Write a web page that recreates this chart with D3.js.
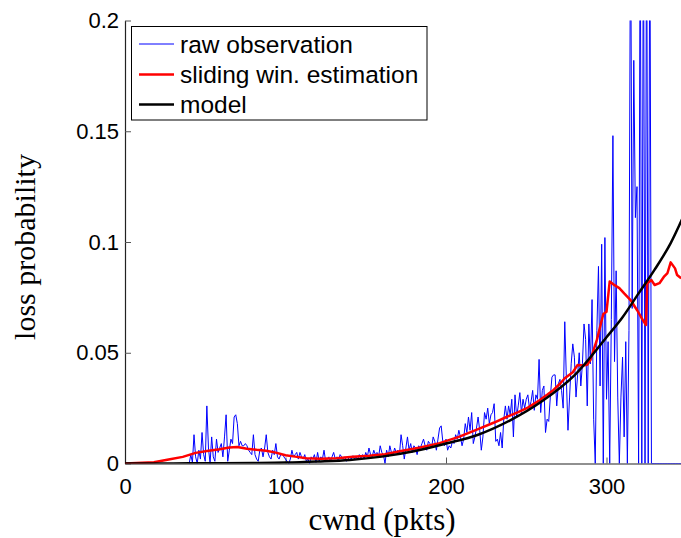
<!DOCTYPE html>
<html lang="en">
<head>
<meta charset="UTF-8">
<title>Loss probability vs cwnd</title>
<script src="https://d3js.org/d3.v7.min.js"></script>
<style>
  body { margin: 0; background: #fff; }
  svg { display: block; }
</style>
</head>
<body>
<div id="chart"></div>
<script>
  // Tick values and legend labels
  const xTicks = [0, 100, 200, 300];
  const yTicks = [0, 0.05, 0.1, 0.15, 0.2];
  const legendLabels = ["raw observation", "sliding win. estimation", "model"];

  // Raw observation: one value per cwnd, starting at cwnd = 40
  const rawStart = 40;
  const rawValues = [
    0, 0.004, 0.0005, 0.013, 0.003, 0, 0.006, 0.002, 0.014, 0.004,          // 40
    0.001, 0.026, 0.007, 0, 0.012, 0.003, 0.001, 0.011, 0.005, 0.007,       // 50
    0.009, 0.003, 0.012, 0.022, 0.001, 0.006, 0.011, 0.009, 0.021, 0.022,   // 60
    0.018, 0.008, 0.010, 0.008, 0.008, 0.009, 0.008, 0.006, 0.005, 0.004,   // 70
    0.013, 0.004, 0.002, 0.001, 0.006, 0.007, 0.003, 0.007, 0.013, 0.005,  // 80
    0.003, 0.002, 0.006, 0.004, 0.009, 0.003, 0.002, 0.004, 0.004, 0.003,  // 90
    0.002, 0.001, 0, 0.002, 0.006, 0.003, 0.004, 0.005, 0.002, 0.005,      // 100
    0.003, 0.002, 0.004, 0.001, 0.002, 0, 0.003, 0.002, 0.004, 0.0005,     // 110
    0.005, 0.001, 0.003, 0.002, 0.006, 0.001, 0.002, 0.003, 0.001, 0.003,  // 120
    0.005, 0.002, 0.003, 0.001, 0.004, 0.003, 0.002, 0.003, 0.001, 0.002,  // 130
    0.003, 0.002, 0.0035, 0.002, 0.003, 0.002, 0.004, 0.0025, 0.004, 0.002, // 140
    0.005, 0.003, 0.007, 0.004, 0.003, 0.006, 0.004, 0.005, 0.003, 0.008,  // 150
    0.005, 0.004, 0, 0.006, 0.003, 0.008, 0.005, 0.004, 0.007, 0.005,      // 160
    0.006, 0.004, 0.013, 0.008, 0.002, 0.007, 0.012, 0.006, 0.009, 0.005,  // 170
    0.008, 0.007, 0.004, 0.008, 0.007, 0.009, 0.011, 0.008, 0.006, 0.010,  // 180
    0.009, 0.007, 0.012, 0.010, 0.006, 0.011, 0.016, 0.017, 0.010, 0.008,  // 190
    0.011, 0.006, 0.008, 0.007, 0.010, 0.009, 0.013, 0.011, 0.015, 0.012,  // 200
    0.008, 0.011, 0.018, 0.014, 0.021, 0.015, 0.023, 0.009, 0.012, 0.016,  // 210
    0.021, 0.015, 0.006, 0.012, 0.023, 0.020, 0.025, 0.018, 0.022, 0.023,  // 220
    0.027, 0.010, 0.011, 0.008, 0.014, 0.007, 0.020, 0.026, 0.020, 0.026,  // 230
    0.022, 0.029, 0.012, 0.031, 0.021, 0.026, 0.032, 0.023, 0.029, 0.025,  // 240
    0.029, 0.031, 0.025, 0.028, 0.033, 0.024, 0.031, 0.029, 0.047, 0.023,  // 250
    0.033, 0.035, 0.014, 0.020, 0.019, 0.030, 0.039, 0.040, 0.040, 0.026,  // 260
    0.036, 0.038, 0.033, 0.025, 0.064, 0.038, 0.015, 0.030, 0.045, 0.054,  // 270
    0.048, 0.030, 0.040, 0.050, 0.035, 0.045, 0.063, 0.056, 0.026, 0.063,  // 280
    0.045, 0.074, 0.020, 0, 0.060, 0.089, 0.035, 0.099, 0, 0.102,          // 290
    0.029, 0.055, 0, 0.065, 0.148, 0.046, 0.087, 0.030, 0, 0.030,          // 300
    0.048, 0.012, 0.055, 0, 0.060, 0.26, 0.07, 0.182, 0.111, 0.125,        // 310
    0, 0.26, 0, 0.26, 0, 0.26, 0, 0.26, 0, 0,                              // 320
    0, 0, 0, 0, 0, 0, 0, 0, 0, 0,                                          // 330
    0, 0, 0, 0, 0, 0, 0, 0                                                 // 340
  ];

  // Sliding window estimate
  const slideX = [0, 18, 28, 36, 44, 51, 59, 65, 70, 76, 82, 88, 94, 100, 106, 113,
    122, 132, 142, 152, 162, 172, 184, 196, 208, 220, 230, 238, 245, 251, 258, 263,
    267, 271, 274, 279, 282, 286, 288, 290, 294, 298, 300, 302, 305, 308, 311, 315,
    319, 322, 324.6, 325.4, 328, 330, 333, 336, 338, 340, 342.7, 344, 346.5];
  const slideY = [0, 0.0006, 0.0019, 0.003, 0.0048, 0.0056, 0.0064, 0.0072, 0.0074,
    0.0067, 0.0062, 0.0058, 0.0049, 0.0037, 0.0031, 0.0024, 0.0021, 0.0024, 0.003,
    0.0035, 0.0042, 0.0056, 0.0072, 0.0092, 0.012, 0.0155, 0.0185, 0.0211, 0.0232,
    0.0252, 0.0284, 0.031, 0.0332, 0.036, 0.0385, 0.0412, 0.0445, 0.0443, 0.0446,
    0.0468, 0.0558, 0.0675, 0.0685, 0.0822, 0.0805, 0.0792, 0.0768, 0.0738, 0.0693,
    0.0655, 0.0625, 0.0814, 0.0828, 0.0806, 0.0814, 0.0845, 0.086, 0.0908, 0.0881,
    0.0851, 0.0836];

  // Model curve
  const modelX = [0, 20, 40, 60, 80, 100, 120, 140, 160, 180, 200, 220, 240, 260,
    280, 300, 310, 320, 330, 340, 350];
  const modelY = [0, 0, 0.0001, 0.0001, 0.0002, 0.0004, 0.0009, 0.0016, 0.0031,
    0.0055, 0.0090, 0.0130, 0.0195, 0.0282, 0.0398, 0.0570, 0.0660, 0.0768, 0.0875,
    0.0995, 0.1150];

  const width = 681;
  const height = 538;

  const x = d3.scaleLinear().domain([0, 350]).range([125, 686.75]);
  const y = d3.scaleLinear().domain([0, 0.2]).range([463.5, 20.5]);

  const svg = d3.select("#chart")
    .append("svg")
    .attr("width", width)
    .attr("height", height);

  svg.append("clipPath")
    .attr("id", "plot-clip")
    .append("rect")
    .attr("x", x(0))
    .attr("y", y(0.2))
    .attr("width", x(350) - x(0))
    .attr("height", y(0) - y(0.2));

  // Axes, ticks pointing inward
  const yAxis = d3.axisLeft(y)
    .tickValues(yTicks)
    .tickFormat(d => String(d))
    .tickSizeInner(-6)
    .tickSizeOuter(0)
    .tickPadding(6);

  const xAxis = d3.axisBottom(x)
    .tickValues(xTicks)
    .tickFormat(d => String(d))
    .tickSizeInner(-6)
    .tickSizeOuter(0)
    .tickPadding(15);

  const gx = svg.append("g")
    .attr("transform", `translate(0, ${y(0)})`)
    .call(xAxis);

  const gy = svg.append("g")
    .attr("transform", `translate(${x(0)}, 0)`)
    .call(yAxis);

  [gx, gy].forEach(g => {
    g.selectAll("path.domain").attr("stroke", "#222").attr("stroke-width", 1.2);
    g.selectAll(".tick line").attr("stroke", "#555");
    g.selectAll("text")
      .attr("fill", "#000")
      .style("font-family", "'Liberation Sans', Arial, sans-serif")
      .style("font-size", "22px");
  });

  // Series
  const plot = svg.append("g").attr("clip-path", "url(#plot-clip)");

  const rawLine = d3.line()
    .x((d, i) => x(rawStart + i))
    .y(d => y(d));

  plot.append("path")
    .datum(rawValues)
    .attr("d", rawLine)
    .attr("fill", "none")
    .attr("stroke", "#0000ff")
    .attr("stroke-width", 1);

  const pairLine = d3.line()
    .x(d => x(d[0]))
    .y(d => y(d[1]));

  plot.append("path")
    .datum(d3.zip(slideX, slideY))
    .attr("d", pairLine)
    .attr("fill", "none")
    .attr("stroke", "#ff0000")
    .attr("stroke-width", 2.5)
    .attr("stroke-linejoin", "round");

  plot.append("path")
    .datum(d3.zip(modelX, modelY))
    .attr("d", pairLine.curve(d3.curveMonotoneX))
    .attr("fill", "none")
    .attr("stroke", "#000")
    .attr("stroke-width", 2.5);

  // Axis titles
  svg.append("text")
    .attr("x", 382)
    .attr("y", 530)
    .attr("text-anchor", "middle")
    .style("font-family", "'Liberation Serif', 'Times New Roman', serif")
    .style("font-size", "31px")
    .text("cwnd (pkts)");

  svg.append("text")
    .attr("transform", "translate(35, 247) rotate(-90)")
    .attr("text-anchor", "middle")
    .style("font-family", "'Liberation Serif', 'Times New Roman', serif")
    .style("font-size", "30px")
    .text("loss probability");

  // Legend
  const legend = svg.append("g");
  legend.append("rect")
    .attr("x", 131.5)
    .attr("y", 26.5)
    .attr("width", 295.5)
    .attr("height", 93.5)
    .attr("fill", "#fff")
    .attr("stroke", "#000")
    .attr("stroke-width", 1);

  const legendColors = ["#0000ff", "#ff0000", "#000"];
  const legendWidths = [1, 2.5, 2.5];
  const rowY = [44, 74.5, 104.5];

  legendLabels.forEach((label, i) => {
    legend.append("line")
      .attr("x1", 139).attr("x2", 174)
      .attr("y1", rowY[i]).attr("y2", rowY[i])
      .attr("stroke", legendColors[i])
      .attr("stroke-width", legendWidths[i]);
    legend.append("text")
      .attr("x", 180)
      .attr("y", rowY[i] + 8.5)
      .style("font-family", "'Liberation Sans', Arial, sans-serif")
      .style("font-size", "24.5px")
      .text(label);
  });
</script>
</body>
</html>
